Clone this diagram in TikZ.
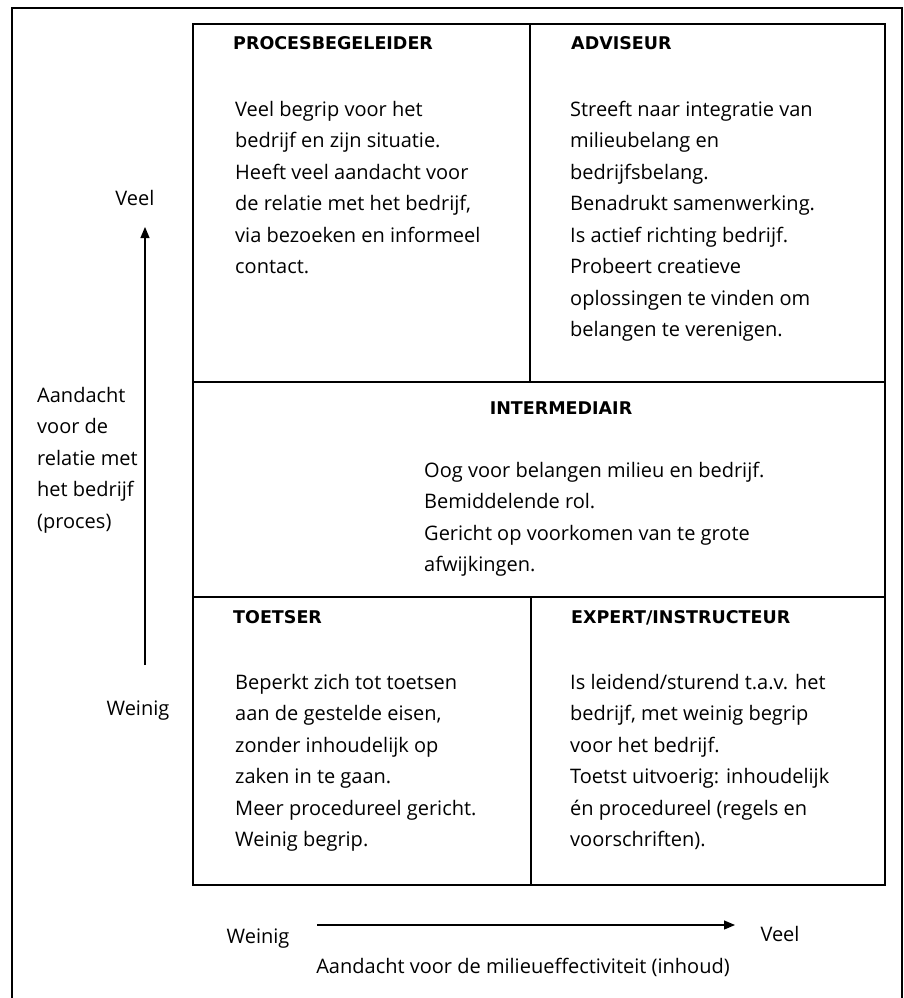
\documentclass[tikz,border=0pt]{standalone}
\usepackage{fontspec}
\setmainfont{Open Sans}
\newfontfamily\rolefont{DejaVu Sans}
\usetikzlibrary{arrows.meta}

\begin{document}
\begin{tikzpicture}[x=1pt, y=-1pt,
    every node/.style={font=\fontsize{20}{24}\selectfont, inner sep=0pt},
    body/.style={anchor=base west},
    rolename/.style={anchor=base west, font=\rolefont\bfseries\fontsize{17.5}{20}\selectfont},
    cell/.style={draw, line width=1.8pt},
    axis/.style={-{Triangle[length=11pt,width=9pt]}, line width=1.1pt}]
    \useasboundingbox (0,0) rectangle (904,998);

    % outer frame (bottom edge falls off the page)
    \draw[line width=1.8pt] (12,998) -- (12,8) -- (902,8) -- (902,998);

    % grid of roles
    \coordinate (nw) at (193,24);
    \coordinate (se) at (885,885);
    \draw[cell] (nw) rectangle (se);
    \draw[cell] (193,382) -- (885,382);
    \draw[cell] (193,597) -- (885,597);
    \draw[cell] (530,24) -- (530,382);
    \draw[cell] (531,597) -- (531,885);

    % top row
    \node[rolename] (pbtitle) at (233,50) {PROCESBEGELEIDER};
    \foreach \t [count=\k from 0] in {Veel begrip voor het, bedrijf en zijn situatie., Heeft veel aandacht voor, {de relatie met het bedrijf,}, via bezoeken en informeel, contact.}
        \node[body] (pb\k) at (235,116+31.5*\k) {\t};

    \node[rolename] (advtitle) at (571,50) {ADVISEUR};
    \foreach \t [count=\k from 0] in {Streeft naar integratie van, milieubelang en, bedrijfsbelang., Benadrukt samenwerking., Is actief richting bedrijf., Probeert creatieve, oplossingen te vinden om, belangen te verenigen.}
        \node[body] (adv\k) at (570,116+31.5*\k) {\t};

    % middle row
    \node[rolename, anchor=base] (imtitle) at (561,414) {INTERMEDIAIR};
    \foreach \t [count=\k from 0] in {Oog voor belangen milieu en bedrijf., Bemiddelende rol., Gericht op voorkomen van te grote, afwijkingen.}
        \node[body] (im\k) at (424,477+31.5*\k) {\t};

    % bottom row
    \node[rolename] (tstitle) at (233,623) {TOETSER};
    \foreach \t [count=\k from 0] in {Beperkt zich tot toetsen, {aan de gestelde eisen,}, zonder inhoudelijk op, zaken in te gaan., Meer procedureel gericht., Weinig begrip.}
        \node[body] (ts\k) at (235,689+31.5*\k) {\t};

    \node[rolename] (extitle) at (571,623) {EXPERT/INSTRUCTEUR};
    \foreach \t [count=\k from 0] in {Is leidend/sturend t.a.v. het, {bedrijf, met weinig begrip}, voor het bedrijf., Toetst uitvoerig: inhoudelijk, én procedureel (regels en, voorschriften).}
        \node[body] (ex\k) at (570,689+31.5*\k) {\t};

    % vertical axis
    \node[anchor=base] (vveel) at (135,205) {Veel};
    \node[anchor=base] (vweinig) at (138,715) {Weinig};
    \coordinate (vlow) at (145,665);
    \coordinate (vhigh) at (145,227);
    \draw[axis] (vlow) -- (vhigh);
    \foreach \t [count=\k from 0] in {Aandacht, voor de, relatie met, het bedrijf, (proces)}
        \node[body] (vlab\k) at (37,402+31.5*\k) {\t};

    % horizontal axis
    \node[anchor=base] (hweinig) at (258,943) {Weinig};
    \node[anchor=base] (hveel) at (780,941) {Veel};
    \coordinate (hlow) at (317,925);
    \coordinate (hhigh) at (735,925);
    \draw[axis] (hlow) -- (hhigh);
    \node[anchor=base] (hlab) at (523,973) {Aandacht voor de milieueffectiviteit (inhoud)};
\end{tikzpicture}
\end{document}
